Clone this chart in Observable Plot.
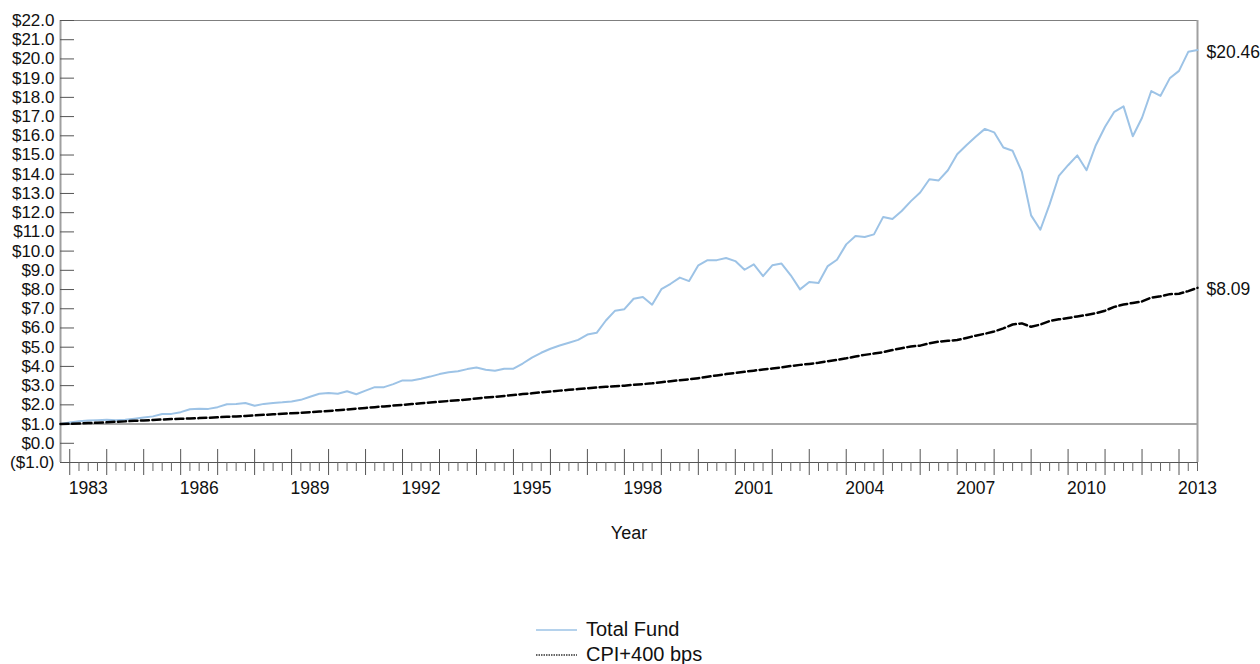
<!DOCTYPE html>
<html>
<head>
<meta charset="utf-8">
<script src="https://cdn.jsdelivr.net/npm/d3@7"></script>
<script src="https://cdn.jsdelivr.net/npm/@observablehq/plot@0.6"></script>
<style>
  html, body { margin: 0; padding: 0; background: #fff; }
  #wrap { position: relative; width: 1260px; height: 664px; font-family: "Liberation Sans", Arial, sans-serif; color: #111; }
  #chart svg { display: block; }
  #legend { position: absolute; left: 0; top: 600px; width: 1260px; height: 64px; }
  .row { position: absolute; left: 536px; height: 24px; display: flex; align-items: center; font-size: 20px; }
  .row svg { display: block; margin-right: 9px; }
</style>
</head>
<body>
<div id="wrap">
  <div id="chart"></div>
  <div id="legend"></div>
</div>
<script>
// ---- Data (quarterly, Jun 1982 .. Mar 2013), growth of $1 ----
const seriesNames = ["Total Fund", "CPI+400 bps"];
const seriesColors = ["#9dc3e6", "#000000"];

const totalFund = [
  1.00,1.08,1.15,1.18,1.20,1.22,1.20,1.22,1.28,1.34,
  1.40,1.52,1.53,1.62,1.77,1.80,1.79,1.88,2.03,2.05,
  2.10,1.95,2.05,2.10,2.13,2.18,2.26,2.42,2.58,2.62,
  2.58,2.71,2.55,2.74,2.92,2.92,3.08,3.27,3.27,3.36,
  3.47,3.60,3.70,3.75,3.86,3.94,3.83,3.77,3.88,3.88,
  4.15,4.46,4.71,4.92,5.09,5.23,5.38,5.66,5.75,6.39,
  6.90,6.98,7.52,7.61,7.21,8.02,8.30,8.62,8.44,9.26,
  9.53,9.53,9.64,9.48,9.03,9.31,8.70,9.26,9.35,8.74,
  8.01,8.39,8.34,9.22,9.55,10.35,10.79,10.73,10.87,11.78,
  11.67,12.09,12.60,13.05,13.74,13.68,14.21,15.04,15.51,15.95,
  16.36,16.18,15.39,15.22,14.12,11.86,11.11,12.43,13.91,14.47,
  14.98,14.21,15.51,16.47,17.25,17.53,15.98,16.94,18.33,18.08,
  18.99,19.38,20.37,20.46
];

const cpi400 = [
  1.00,1.02,1.03,1.05,1.07,1.09,1.12,1.14,1.17,1.19,
  1.21,1.24,1.26,1.28,1.29,1.31,1.33,1.35,1.38,1.40,
  1.42,1.45,1.48,1.51,1.54,1.56,1.59,1.62,1.65,1.68,
  1.72,1.76,1.80,1.84,1.88,1.92,1.96,2.00,2.04,2.08,
  2.12,2.16,2.20,2.24,2.28,2.33,2.38,2.42,2.46,2.51,
  2.56,2.60,2.65,2.69,2.74,2.78,2.82,2.86,2.90,2.94,
  2.97,3.00,3.04,3.08,3.12,3.18,3.23,3.28,3.33,3.39,
  3.46,3.53,3.60,3.66,3.72,3.78,3.84,3.89,3.95,4.02,
  4.08,4.13,4.19,4.27,4.34,4.42,4.52,4.60,4.67,4.74,
  4.85,4.95,5.04,5.08,5.20,5.29,5.33,5.37,5.48,5.60,
  5.70,5.82,5.98,6.18,6.24,6.06,6.18,6.36,6.45,6.52,
  6.60,6.68,6.77,6.90,7.10,7.22,7.30,7.38,7.58,7.65,
  7.76,7.78,7.92,8.09
];

const yearLabels = ["1983","1986","1989","1992","1995","1998","2001","2004","2007","2010","2013"];
const yTicks = d3.range(-1, 23);

// quarter labels: Jun 1982 (Q2) onward
const quarters = totalFund.map((_, i) => {
  const q = 1 + i; // Q2 1982 => offset 1
  const year = 1982 + Math.floor(q / 4);
  return { year, q: (q % 4) + 1 };
});
const idx = quarters.map((_, i) => i);
// labels at Q1 of label years; major ticks at Q3 of every year; minor elsewhere
const labelIdx = idx.filter(i => quarters[i].q === 1 && yearLabels.includes(String(quarters[i].year)));
const majorIdx = idx.filter(i => quarters[i].q === 3);
const minorIdx = idx.filter(i => quarters[i].q !== 3 && i > 0);

const rows = [];
totalFund.forEach((v, i) => rows.push({ i, v, s: seriesNames[0] }));
cpi400.forEach((v, i) => rows.push({ i, v, s: seriesNames[1] }));
const last = idx.length - 1;
const endPoints = [
  { i: last, v: totalFund[last] },
  { i: last, v: cpi400[last] }
];

const fmtY = v => v < 0 ? `($${Math.abs(v).toFixed(1)})` : `$${v.toFixed(1)}`;
const font = "'Liberation Sans', Arial, sans-serif";

const chart = Plot.plot({
  width: 1260,
  height: 600,
  marginLeft: 60,
  marginRight: 63,
  marginTop: 20,
  marginBottom: 138,
  style: { fontFamily: font, fontSize: "17px", color: "#111", background: "#fff", overflow: "visible" },
  x: { domain: [0, last], axis: null },
  y: { domain: [-1, 22], axis: null },
  marks: [
    // frame pieces
    Plot.ruleY([22], { stroke: "#7f7f7f", strokeWidth: 1 }),
    Plot.ruleY([1], { stroke: "#a6a6a6", strokeWidth: 2 }),
    Plot.ruleY([-1], { stroke: "#555", strokeWidth: 1 }),
    Plot.ruleX([0], { stroke: "#a0a0a0", strokeWidth: 2 }),
    Plot.ruleX([last], { stroke: "#a0a0a0", strokeWidth: 2 }),
    // y ticks (pointing inwards) and labels
    Plot.axisY(yTicks, { tickSize: 14, dx: 14, fill: "none", stroke: "#555", label: null }),
    Plot.axisY(yTicks, { tickSize: 0, tickPadding: 6, tickFormat: fmtY, fontSize: 17, label: null }),
    // x ticks
    Plot.axisX(majorIdx, { tickSize: 26, dy: -13, fill: "none", stroke: "#555", label: null }),
    Plot.axisX(minorIdx, { tickSize: 9, fill: "none", stroke: "#666", label: null }),
    Plot.axisX(labelIdx, { tickSize: 0, tickPadding: 19, tickFormat: i => String(quarters[i].year), fontSize: 17.5, label: null }),
    Plot.text(["Year"], { frameAnchor: "bottom", dy: 76, fontSize: 18, fill: "#111" }),
    // series
    Plot.line(rows.filter(d => d.s === seriesNames[0]), { x: "i", y: "v", stroke: seriesColors[0], strokeWidth: 2 }),
    Plot.line(rows.filter(d => d.s === seriesNames[1]), { x: "i", y: "v", stroke: seriesColors[1], strokeWidth: 2.5, strokeDasharray: "8,3.5" }),
    // end labels
    Plot.text(endPoints, { x: "i", y: "v", text: d => "$" + d.v.toFixed(2), dx: 9, dy: 2, textAnchor: "start", fontSize: 17.5, fill: "#111" })
  ]
});
document.getElementById("chart").appendChild(chart);

// legend
const legend = document.getElementById("legend");
const legendTops = [17, 42];
seriesNames.forEach((name, k) => {
  const row = document.createElement("div");
  row.className = "row";
  row.style.top = legendTops[k] + "px";
  const dash = k === 1 ? ' stroke-dasharray="1.5,1"' : '';
  const sw = k === 1 ? 1.3 : 1.5;
  const col = k === 1 ? "#333" : seriesColors[0];
  row.innerHTML = `<svg width="41" height="24"><line x1="0" x2="41" y1="13" y2="13" stroke="${col}" stroke-width="${sw}"${dash}/></svg><span>${name}</span>`;
  legend.appendChild(row);
});
</script>
</body>
</html>
